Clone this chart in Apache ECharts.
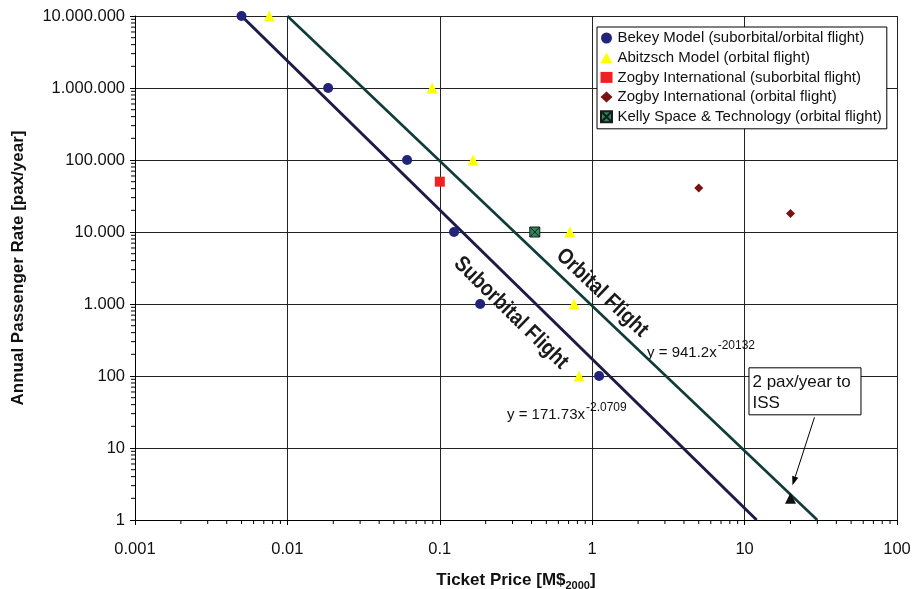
<!DOCTYPE html>
<html>
<head>
<meta charset="utf-8">
<script src="https://cdn.jsdelivr.net/npm/echarts@6/dist/echarts.min.js"></script>
<style>
  html, body { margin: 0; padding: 0; background: #fff; }
  #chart { width: 913px; height: 589px; }
</style>
</head>
<body>
<div id="chart"></div>
<script>
// Axis ticks
const xTicks = [0.001, 0.01, 0.1, 1, 10, 100];
const xTickLabels = ['0.001', '0.01', '0.1', '1', '10', '100'];
const yTicks = [1, 10, 100, 1000, 10000, 100000, 1000000, 10000000];
const yTickLabels = ['1', '10', '100', '1.000', '10.000', '100.000', '1.000.000', '10.000.000'];

// Market studies: ticket price [M$2000] vs. annual passenger rate [pax/year]
const bekeyPrice = [0.005, 0.0185, 0.061, 0.124, 0.184, 1.11];
const bekeyRate = [10000000, 1000000, 100000, 10000, 1000, 100];
const abitzschPrice = [0.0076, 0.089, 0.165, 0.714, 0.76, 0.82];
const abitzschRate = [10000000, 1000000, 100000, 10000, 1000, 100];
const zogbySubPrice = [0.1];
const zogbySubRate = [50000];
const zogbyOrbPrice = [5, 20];
const zogbyOrbRate = [41000, 18000];
const kellyPrice = [0.42];
const kellyRate = [10000];
const issPrice = [20];
const issRate = [2];

// Power-law fits y = a * x^b and the price range each is drawn over
const subFit = { a: 171.73, b: -2.0709 };
const subFitRange = [0.005, 12];
const orbFit = { a: 941.2, b: -2.0132 };
const orbFitRange = [0.01, 30];

const FONT = '"Liberation Sans", Arial, Helvetica, sans-serif';

const pairs = (xs, ys) => xs.map((x, i) => [x, ys[i]]);
const fitLine = (fit, range) => range.map(x => [x, fit.a * Math.pow(x, fit.b)]);

// log-axis minor tick positions (2..9 within each decade)
const minorsBetween = (ticks) => {
  const out = [];
  for (let i = 0; i < ticks.length - 1; i++) {
    for (let k = 2; k <= 9; k++) out.push(ticks[i] * k);
  }
  return out;
};
const xMinor = minorsBetween(xTicks);
const yMinor = minorsBetween(yTicks);

const xMin = xTicks[0], xMax = xTicks[xTicks.length - 1];
const yMin = yTicks[0], yMax = yTicks[yTicks.length - 1];

function minorTickSeries(values, dim) {
  return {
    type: 'custom',
    silent: true,
    clip: false,
    z: 6,
    data: values.map(v => dim === 'x' ? [v, yMin] : [xMin, v]),
    renderItem(params, api) {
      const p = api.coord([api.value(0), api.value(1)]);
      const shape = dim === 'x'
        ? { x1: p[0], y1: p[1], x2: p[0], y2: p[1] + 4 }
        : { x1: p[0] - 4, y1: p[1], x2: p[0], y2: p[1] };
      return { type: 'line', shape, style: { stroke: '#000', lineWidth: 1 } };
    }
  };
}

const labelFor = (ticks, labels) => (v) => {
  const i = ticks.findIndex(t => Math.abs(Math.log10(t) - Math.log10(v)) < 1e-6);
  return i >= 0 ? labels[i] : '';
};

const chart = echarts.init(document.getElementById('chart'), null, { renderer: 'canvas' });

const option = {
  animation: false,
  backgroundColor: '#fff',
  textStyle: { fontFamily: FONT },
  grid: { left: 135, right: 16, top: 16, bottom: 69, containLabel: false, outerBoundsMode: 'none' },
  xAxis: {
    type: 'log', logBase: 10, min: xMin, max: xMax,
    name: '{t|Ticket Price [M$}{s|2000}{t|]}',
    nameLocation: 'middle', nameGap: 49,
    nameTextStyle: {
      rich: {
        t: { fontFamily: FONT, fontSize: 17, fontWeight: 'bold', color: '#111', lineHeight: 22, verticalAlign: 'middle' },
        s: { fontFamily: FONT, fontSize: 11, fontWeight: 'bold', color: '#111', lineHeight: 22, verticalAlign: 'bottom' }
      }
    },
    axisLine: { show: true, lineStyle: { color: '#000', width: 1 } },
    axisTick: { show: true, length: 5, lineStyle: { color: '#000' } },
    axisLabel: { formatter: labelFor(xTicks, xTickLabels), fontSize: 16.5, color: '#111', margin: 21, fontFamily: FONT },
    splitLine: { show: true, lineStyle: { color: '#222', width: 1 } },
    minorTick: { show: false }
  },
  yAxis: {
    type: 'log', logBase: 10, min: yMin, max: yMax,
    name: 'Annual Passenger Rate [pax/year]',
    nameLocation: 'middle', nameGap: 108, nameRotate: 90,
    nameTextStyle: { fontFamily: FONT, fontSize: 17, fontWeight: 'bold', color: '#111' },
    axisLine: { show: true, lineStyle: { color: '#000', width: 1 } },
    axisTick: { show: true, length: 5, lineStyle: { color: '#000' } },
    axisLabel: { formatter: labelFor(yTicks, yTickLabels), fontSize: 16.5, color: '#111', margin: 10, fontFamily: FONT },
    splitLine: { show: true, lineStyle: { color: '#222', width: 1 } }
  },
  legend: {
    orient: 'vertical',
    left: 597, top: 27,
    backgroundColor: '#fff',
    borderColor: '#000', borderWidth: 1,
    padding: [3, 5, 4, 3],
    itemGap: 3.7,
    itemWidth: 12, itemHeight: 11,
    itemTextGap: 4,
    textStyle: { fontFamily: FONT, fontSize: 15, color: '#111', lineHeight: 16 },
    data: [
      'Bekey Model (suborbital/orbital flight)',
      'Abitzsch Model (orbital flight)',
      'Zogby International (suborbital flight)',
      'Zogby International (orbital flight)',
      'Kelly Space & Technology (orbital flight)'
    ]
  },
  series: [
    {
      name: 'Suborbital fit', type: 'line', data: fitLine(subFit, subFitRange),
      symbol: 'none', z: 3, lineStyle: { color: '#1d1b45', width: 3 }, silent: true
    },
    {
      name: 'Orbital fit', type: 'line', data: fitLine(orbFit, orbFitRange),
      symbol: 'none', z: 3, lineStyle: { color: '#0f3b38', width: 2.6 }, silent: true
    },
    {
      name: 'Bekey Model (suborbital/orbital flight)', type: 'scatter',
      data: pairs(bekeyPrice, bekeyRate), symbol: 'circle', symbolSize: 10, z: 5,
      itemStyle: { color: '#22237a', opacity: 1 }
    },
    {
      name: 'Abitzsch Model (orbital flight)', type: 'scatter',
      data: pairs(abitzschPrice, abitzschRate), symbol: 'triangle', symbolSize: 11, z: 5,
      itemStyle: { color: '#ffff00', opacity: 1 }
    },
    {
      name: 'Zogby International (suborbital flight)', type: 'scatter',
      data: pairs(zogbySubPrice, zogbySubRate), symbol: 'rect', symbolSize: 10, z: 5,
      itemStyle: { color: '#ee2222', opacity: 1 }
    },
    {
      name: 'Zogby International (orbital flight)', type: 'scatter',
      data: pairs(zogbyOrbPrice, zogbyOrbRate), symbol: 'diamond', symbolSize: 9, z: 5,
      itemStyle: { color: '#7a1212', opacity: 1 }
    },
    {
      name: 'Kelly Space & Technology (orbital flight)', type: 'scatter',
      data: pairs(kellyPrice, kellyRate),
      symbol: 'path://M0,0H10V10H0Z M0,0L10,10 M10,0L0,10', symbolSize: 10, z: 5,
      itemStyle: { color: '#2a8a55', borderColor: '#1a1a1a', borderWidth: 1, opacity: 1 }
    },
    {
      name: '2 pax/year to ISS', type: 'scatter',
      data: pairs(issPrice, issRate), symbol: 'triangle', symbolSize: 11, z: 5,
      itemStyle: { color: '#111', opacity: 1 }
    },
    minorTickSeries(xMinor, 'x'),
    minorTickSeries(yMinor, 'y')
  ]
};

chart.setOption(option);

// Annotations placed from data coordinates
const toPx = (pt) => chart.convertToPixel({ gridIndex: 0 }, pt);
const measure = (() => {
  const ctx = document.createElement('canvas').getContext('2d');
  return (text, size, weight) => { ctx.font = (weight || 'normal') + ' ' + size + 'px ' + FONT; return ctx.measureText(text).width; };
})();

function fitAngle(fit, range) {
  const ends = fitLine(fit, range).map(toPx);
  return -Math.atan2(ends[1][1] - ends[0][1], ends[1][0] - ends[0][0]);
}

function flightLabel(text, anchor, angle) {
  const p = toPx(anchor);
  return {
    type: 'text', x: p[0], y: p[1], rotation: angle, scaleX: 0.86, z: 20,
    style: {
      text, fontFamily: FONT, fontSize: 22, fontWeight: 'bold', fill: '#1a1a1a',
      align: 'center', verticalAlign: 'middle'
    }
  };
}

function equation(base, sup, anchor) {
  const p = toPx(anchor);
  const w = measure(base, 15);
  return {
    type: 'group', x: p[0], y: p[1], z: 20,
    children: [
      { type: 'text', x: 0, y: 0, style: { text: base, fontFamily: FONT, fontSize: 15, fill: '#111', align: 'left', verticalAlign: 'middle' } },
      { type: 'text', x: w + 1, y: -7, style: { text: sup, fontFamily: FONT, fontSize: 12, fill: '#111', align: 'left', verticalAlign: 'middle' } }
    ]
  };
}

const iss = toPx([issPrice[0], issRate[0]]);
const tail = [iss[0] + 24, iss[1] - 81];
const tip = [iss[0] + 2, iss[1] - 13];
const ang = Math.atan2(tip[1] - tail[1], tip[0] - tail[0]);
const headLen = 9, headW = 3.2;
const back = [tip[0] - headLen * Math.cos(ang), tip[1] - headLen * Math.sin(ang)];
const head = [
  tip,
  [back[0] + headW * Math.sin(ang), back[1] - headW * Math.cos(ang)],
  [back[0] - headW * Math.sin(ang), back[1] + headW * Math.cos(ang)]
];

chart.setOption({
  graphic: [
    flightLabel('Suborbital Flight', [0.293, 750], fitAngle(subFit, subFitRange)),
    flightLabel('Orbital Flight', [1.16, 1422], fitAngle(orbFit, orbFitRange)),
    equation('y = 941.2x', '-20132', [2.29, 208]),
    equation('y = 171.73x', '-2.0709', [0.276, 28.7]),
    {
      type: 'rect', z: 20,
      shape: { x: iss[0] - 41.5, y: iss[1] - 130.5, width: 112, height: 47 },
      style: { fill: '#fff', stroke: '#000', lineWidth: 1 }
    },
    {
      type: 'text', z: 21, x: iss[0] - 38, y: iss[1] - 127,
      style: { text: '2 pax/year to\nISS', fontFamily: FONT, fontSize: 17, lineHeight: 21, fill: '#111', align: 'left', verticalAlign: 'top' }
    },
    {
      type: 'line', z: 21,
      shape: { x1: tail[0], y1: tail[1], x2: back[0], y2: back[1] },
      style: { stroke: '#000', lineWidth: 1 }
    },
    {
      type: 'polygon', z: 21,
      shape: { points: head },
      style: { fill: '#000' }
    }
  ]
});
</script>
</body>
</html>
